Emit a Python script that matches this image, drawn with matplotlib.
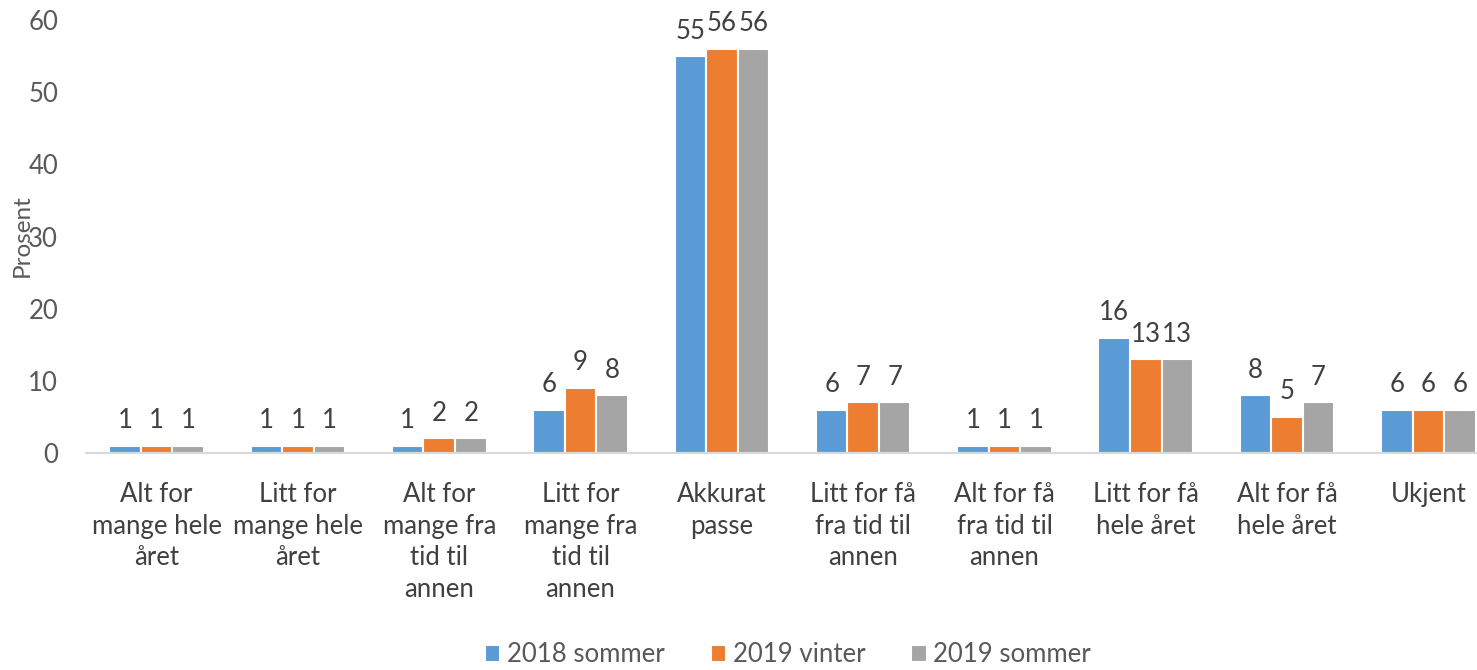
import matplotlib.pyplot as plt
import numpy as np

plt.rcParams['font.family'] = ['Lato', 'DejaVu Sans']

categories = ['Alt for\nmange hele\nåret', 'Litt for\nmange hele\nåret',
              'Alt for\nmange fra\ntid til\nannen', 'Litt for\nmange fra\ntid til\nannen',
              'Akkurat\npasse', 'Litt for få\nfra tid til\nannen', 'Alt for få\nfra tid til\nannen',
              'Litt for få\nhele året', 'Alt for få\nhele året', 'Ukjent']
series_names = ['2018 sommer', '2019 vinter', '2019 sommer']
s2018_sommer = [1, 1, 1, 6, 55, 6, 1, 16, 8, 6]
s2019_vinter = [1, 1, 2, 9, 56, 7, 1, 13, 5, 6]
s2019_sommer = [1, 1, 2, 8, 56, 7, 1, 13, 7, 6]
colors = ['#5B9BD5', '#ED7D31', '#A5A5A5']

fig = plt.figure(figsize=(14.77, 6.70), dpi=100)
ax = fig.add_axes([86 / 1477, 0.324, (1499 - 86) / 1477, 0.646])

x = np.arange(len(categories))
w = 0.223
for i, (vals, name, c) in enumerate(zip([s2018_sommer, s2019_vinter, s2019_sommer], series_names, colors)):
    bars = ax.bar(x + (i - 1) * w, vals, w, color=c, edgecolor='white', linewidth=1.5, label=name)
    ax.bar_label(bars, padding=9, fontsize=18.5, color='#404040')

ax.set_xlim(-0.5, len(categories) - 0.5)
ax.set_ylim(0, 60)
ax.set_yticks(range(0, 61, 10))
ax.set_xticks(x)
ax.set_xticklabels(categories, fontsize=18.5, color='#404040', linespacing=1.33)
ax.tick_params(axis='y', labelsize=18.5, labelcolor='#595959', length=0, pad=20)
ax.tick_params(axis='x', length=0, pad=21)
for s in ['top', 'right', 'left']:
    ax.spines[s].set_visible(False)
ax.spines['bottom'].set_color('#D9D9D9')
ax.spines['bottom'].set_linewidth(1.5)

fig.text(22 / 1477, 1 - 236 / 670, 'Prosent', rotation=90, fontsize=17.5, color='#595959',
         ha='center', va='center')

handles, labels = ax.get_legend_handles_labels()
fig.legend(handles, labels, loc='center', bbox_to_anchor=(788 / 1477, 1 - 655 / 670), ncol=3,
           frameon=False, fontsize=18.5, labelcolor='#595959', handlelength=0.6, handleheight=0.6,
           handletextpad=0.25, columnspacing=1.8)

fig.savefig('out.png', dpi=100)
